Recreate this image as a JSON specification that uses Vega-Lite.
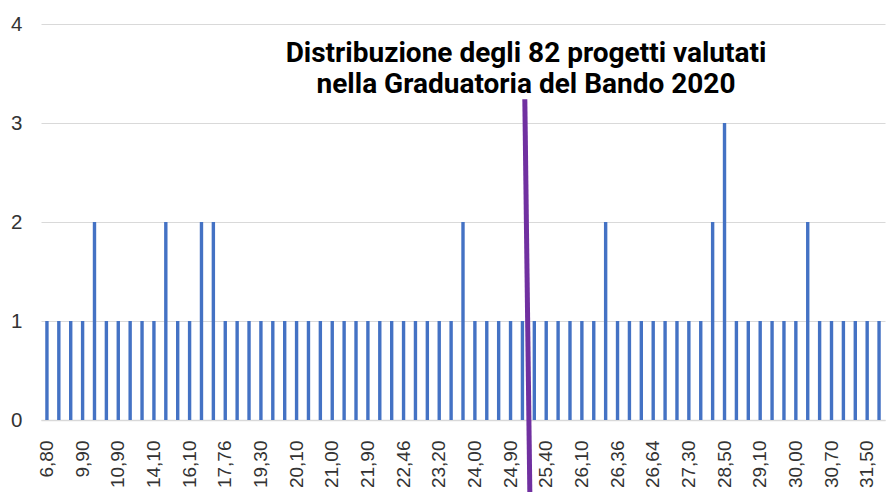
{
  "$schema": "https://vega.github.io/schema/vega-lite/v6.json",
  "autosize": "none",
  "width": 844,
  "height": 396,
  "padding": {"left": 41, "top": 24, "right": 2, "bottom": 72},
  "background": "white",
  "config": {
    "view": {"stroke": null},
    "axis": {"labelFont": "Liberation Sans", "labelColor": "#595959"}
  },
  "datasets": {
    "scores": [
      {"score": "6,80", "n": 1}, {"score": "8,50", "n": 1}, {"score": "9,40", "n": 1}, {"score": "9,90", "n": 1},
      {"score": "10,20", "n": 2}, {"score": "10,60", "n": 1}, {"score": "10,90", "n": 1}, {"score": "12,00", "n": 1},
      {"score": "13,50", "n": 1}, {"score": "14,10", "n": 1}, {"score": "15,00", "n": 2}, {"score": "15,60", "n": 1},
      {"score": "16,10", "n": 1}, {"score": "16,70", "n": 2}, {"score": "17,20", "n": 2}, {"score": "17,76", "n": 1},
      {"score": "18,30", "n": 1}, {"score": "18,80", "n": 1}, {"score": "19,30", "n": 1}, {"score": "19,60", "n": 1},
      {"score": "19,90", "n": 1}, {"score": "20,10", "n": 1}, {"score": "20,40", "n": 1}, {"score": "20,70", "n": 1},
      {"score": "21,00", "n": 1}, {"score": "21,30", "n": 1}, {"score": "21,60", "n": 1}, {"score": "21,90", "n": 1},
      {"score": "22,10", "n": 1}, {"score": "22,30", "n": 1}, {"score": "22,46", "n": 1}, {"score": "22,70", "n": 1},
      {"score": "23,00", "n": 1}, {"score": "23,20", "n": 1}, {"score": "23,50", "n": 1}, {"score": "23,80", "n": 2},
      {"score": "24,00", "n": 1}, {"score": "24,30", "n": 1}, {"score": "24,60", "n": 1}, {"score": "24,90", "n": 1},
      {"score": "25,10", "n": 1}, {"score": "25,20", "n": 1}, {"score": "25,40", "n": 1}, {"score": "25,60", "n": 1},
      {"score": "25,90", "n": 1}, {"score": "26,10", "n": 1}, {"score": "26,20", "n": 1}, {"score": "26,30", "n": 2},
      {"score": "26,36", "n": 1}, {"score": "26,46", "n": 1}, {"score": "26,56", "n": 1}, {"score": "26,64", "n": 1},
      {"score": "26,80", "n": 1}, {"score": "27,00", "n": 1}, {"score": "27,30", "n": 1}, {"score": "27,60", "n": 1},
      {"score": "28,00", "n": 2}, {"score": "28,50", "n": 3}, {"score": "28,70", "n": 1}, {"score": "28,90", "n": 1},
      {"score": "29,10", "n": 1}, {"score": "29,40", "n": 1}, {"score": "29,70", "n": 1}, {"score": "30,00", "n": 1},
      {"score": "30,20", "n": 2}, {"score": "30,50", "n": 1}, {"score": "30,70", "n": 1}, {"score": "30,90", "n": 1},
      {"score": "31,20", "n": 1}, {"score": "31,50", "n": 1}, {"score": "32,00", "n": 1}
    ],
    "cutoff": [{"i1": 40.2, "v1": 3.24, "i2": 40.63, "v2": -0.8}],
    "note": [{"i": 40.3, "v": 3.62, "t": "Distribuzione degli 82 progetti valutati\nnella Graduatoria del Bando 2020"}]
  },
  "layer": [
    {
      "data": {"name": "scores"},
      "mark": {"type": "bar", "size": 3.4, "color": "#4472C4"},
      "encoding": {
        "x": {
          "field": "score", "type": "nominal", "sort": null,
          "scale": {"paddingInner": 0, "paddingOuter": 0},
          "axis": {
            "title": null,
            "values": ["6,80","9,90","10,90","14,10","16,10","17,76","19,30","20,10","21,00","21,90","22,46","23,20","24,00","24,90","25,40","26,10","26,36","26,64","27,30","28,50","29,10","30,00","30,70","31,50"],
            "labelAngle": -90, "labelFontSize": 19, "labelColor": "#333333", "labelPadding": 20,
            "ticks": false, "domainColor": "#D9D9D9", "domainWidth": 1.5, "grid": false
          }
        },
        "y": {
          "field": "n", "type": "quantitative",
          "scale": {"domain": [0, 4], "nice": false},
          "axis": {
            "title": null, "values": [0, 1, 2, 3, 4], "format": "d", "labelFontSize": 20.5, "labelColor": "#333333",
            "ticks": false, "tickSize": 0, "labelPadding": 19, "domain": false,
            "grid": true, "gridColor": "#D9D9D9", "gridWidth": 1
          }
        }
      }
    },
    {
      "data": {"name": "cutoff"},
      "mark": {"type": "rule", "color": "#7030A0", "strokeWidth": 5},
      "encoding": {
        "x": {"field": "i1", "type": "quantitative", "scale": {"domain": [-0.5, 70.5], "nice": false, "zero": false}, "axis": null},
        "x2": {"field": "i2"},
        "y": {"field": "v1", "type": "quantitative"},
        "y2": {"field": "v2"}
      }
    },
    {
      "data": {"name": "note"},
      "mark": {"type": "text", "font": "Roboto", "fontWeight": "bold", "fontSize": 28, "lineHeight": 31, "lineBreak": "\n", "align": "center", "baseline": "alphabetic", "color": "#000000"},
      "encoding": {
        "x": {"field": "i", "type": "quantitative", "scale": {"domain": [-0.5, 70.5], "nice": false, "zero": false}, "axis": null},
        "y": {"field": "v", "type": "quantitative"},
        "text": {"field": "t"}
      }
    }
  ],
  "resolve": {"scale": {"x": "independent"}}
}
